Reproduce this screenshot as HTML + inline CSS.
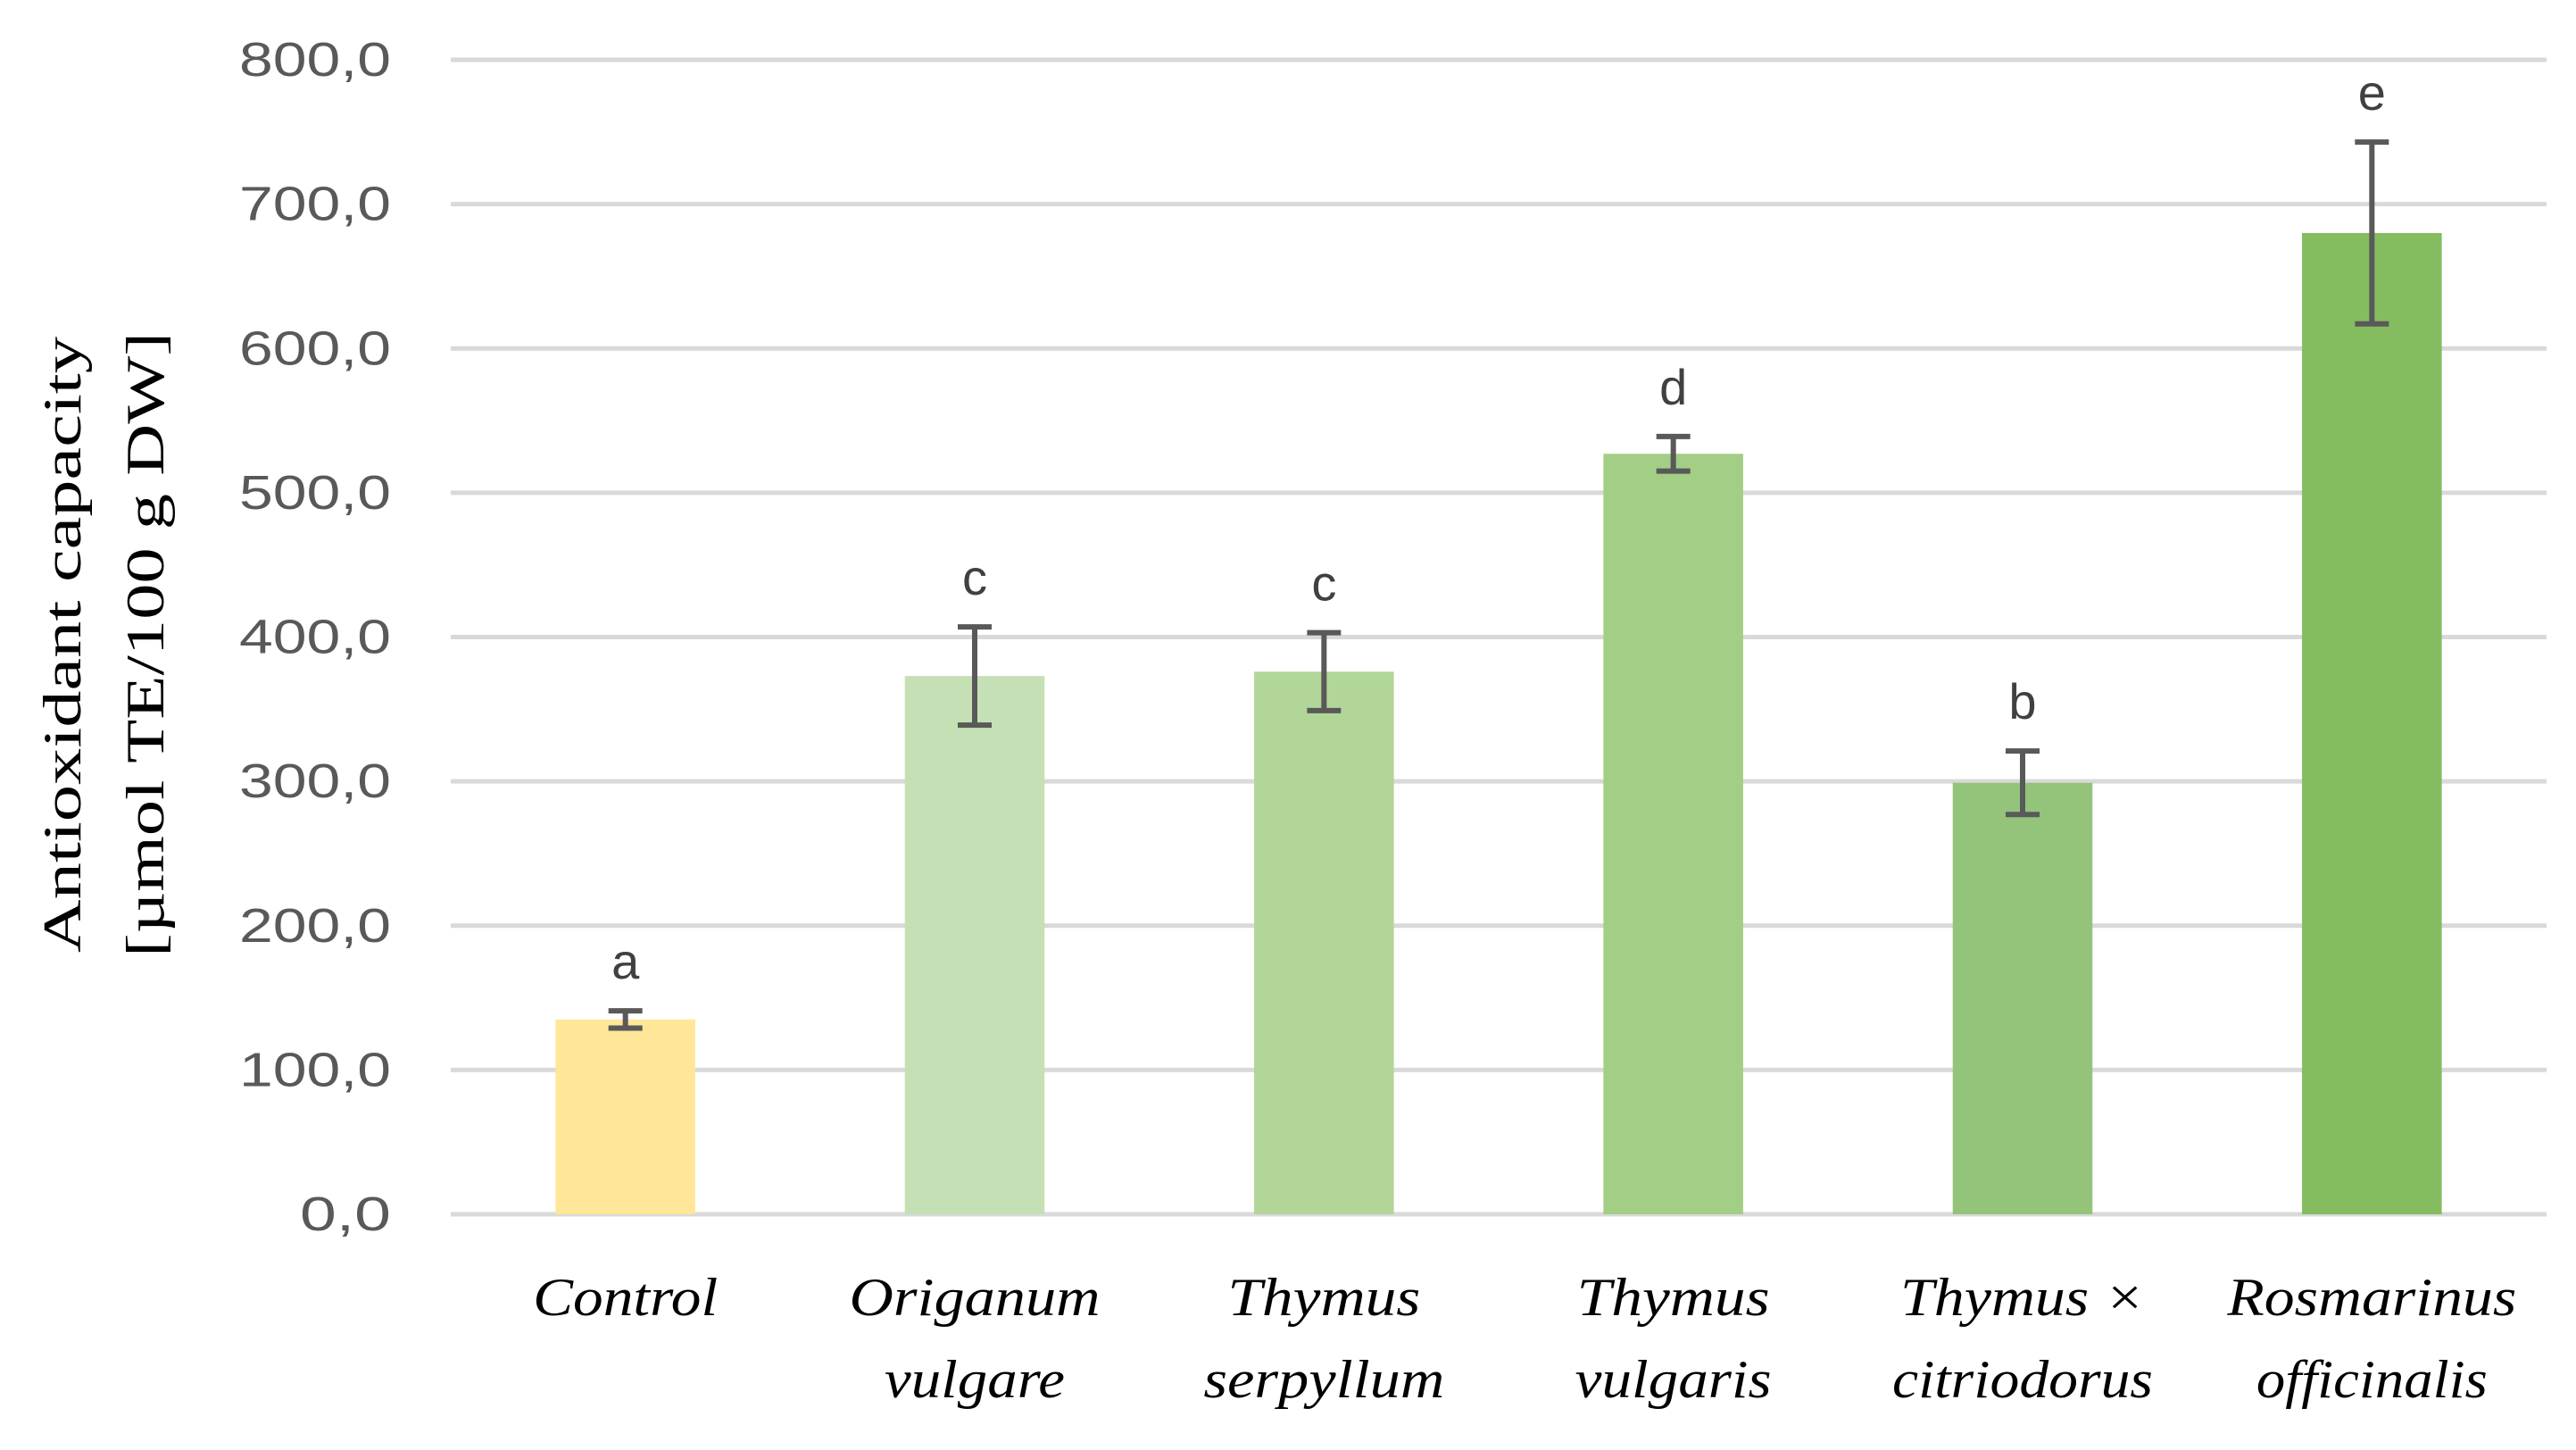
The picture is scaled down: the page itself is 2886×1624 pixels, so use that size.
<!DOCTYPE html>
<html><head><meta charset="utf-8"><style>
html,body{margin:0;padding:0;background:#fff;}
svg{display:block;}
</style></head><body>
<svg id="chart" width="2886" height="1624" viewBox="0 0 2886 1624" xmlns="http://www.w3.org/2000/svg">
<g id="grid"></g>
<g id="yticks"></g>
<g id="bars"></g>
<g id="errs"></g>
<g id="letters"></g>
<g id="xlabels"></g>
<g font-family="Liberation Serif, serif" font-size="60" fill="#000" text-anchor="middle">
<text transform="translate(90,722) rotate(-90)" textLength="690" lengthAdjust="spacingAndGlyphs">Antioxidant capacity</text>
<text transform="translate(183,722) rotate(-90)" textLength="700" lengthAdjust="spacingAndGlyphs">[µmol TE/100 g DW]</text>
</g>
</svg>
<script>
const categories = [["Control"],["Origanum","vulgare"],["Thymus","serpyllum"],["Thymus","vulgaris"],["Thymus ×","citriodorus"],["Rosmarinus","officinalis"]];
const values = [135, 373, 376, 527, 299, 680];
const errors = [6, 34, 27, 12, 22, 63];
const letters = ["a","c","c","d","b","e"];
const colors = ["#FFE699","#C5E0B4","#B1D697","#A3CE86","#93C47A","#84BC5F"];
const yTicks = [0,100,200,300,400,500,600,700,800];
const yTickLabels = ["0,0","100,0","200,0","300,0","400,0","500,0","600,0","700,0","800,0"];

const labelWidths = {"Control":207,"Origanum":281,"vulgare":202,"Thymus":216,"serpyllum":270,"vulgaris":220,"Thymus ×":274,"citriodorus":292,"Rosmarinus":324,"officinalis":259};
const NS = "http://www.w3.org/2000/svg";
const X0 = 505, X1 = 2853, Y0 = 1360, Y800 = 67;
const yScale = v => Y0 - (v / 800) * (Y0 - Y800);
const band = (X1 - X0) / categories.length;
const xCenter = i => X0 + band * (i + 0.5);
const barW = band * 0.4;
function mk(tag, attrs, parent){ const e = document.createElementNS(NS, tag); for (const k in attrs) e.setAttribute(k, attrs[k]); parent.appendChild(e); return e; }

const grid = document.getElementById('grid');
const yt = document.getElementById('yticks');
yTicks.forEach((t, i) => {
  const l = mk('line', {x1: X0, x2: X1, y1: yScale(t), y2: yScale(t), stroke: '#d9d9d9', 'stroke-width': 5}, grid);
  
  
  const w = yTickLabels[i].length * 34;
  const tx = mk('text', {x: 438, y: yScale(t) + 18, 'text-anchor': 'end', 'font-family': 'Liberation Sans, sans-serif', 'font-size': 54, fill: '#595959', textLength: w, lengthAdjust: 'spacingAndGlyphs'}, yt);
  tx.textContent = yTickLabels[i];
  
  
});

const bars = document.getElementById('bars'), errs = document.getElementById('errs'), lets = document.getElementById('letters'), xl = document.getElementById('xlabels');
values.forEach((v, i) => {
  const cx = xCenter(i);
  const r = mk('rect', {x: cx - barW / 2, y: yScale(v), width: barW, height: Y0 - yScale(v), fill: colors[i]}, bars);
  
  
  const top = yScale(v + errors[i]), bot = yScale(v - errors[i]);
  const g = mk('g', {stroke: '#595959', 'stroke-width': 6}, errs);
  
  
  mk('line', {x1: cx, x2: cx, y1: top, y2: bot}, g);
  mk('line', {x1: cx - 19, x2: cx + 19, y1: top, y2: top}, g);
  mk('line', {x1: cx - 19, x2: cx + 19, y1: bot, y2: bot}, g);
  const lt = mk('text', {x: cx, y: top - 36, 'text-anchor': 'middle', 'font-family': 'Liberation Sans, sans-serif', 'font-size': 56, fill: '#404040'}, lets);
  lt.textContent = letters[i];
  
  
  categories[i].forEach((line, j) => {
    const tw = labelWidths[line] || line.length * 28;
    const t = mk('text', {x: cx, y: 1473 + j * 92, 'text-anchor': 'middle', 'font-family': 'Liberation Serif, serif', 'font-style': 'italic', 'font-size': 60, fill: '#000', textLength: tw, lengthAdjust: 'spacingAndGlyphs'}, xl);
    t.textContent = line;
    
    
  });
});
</script>
</body></html>
